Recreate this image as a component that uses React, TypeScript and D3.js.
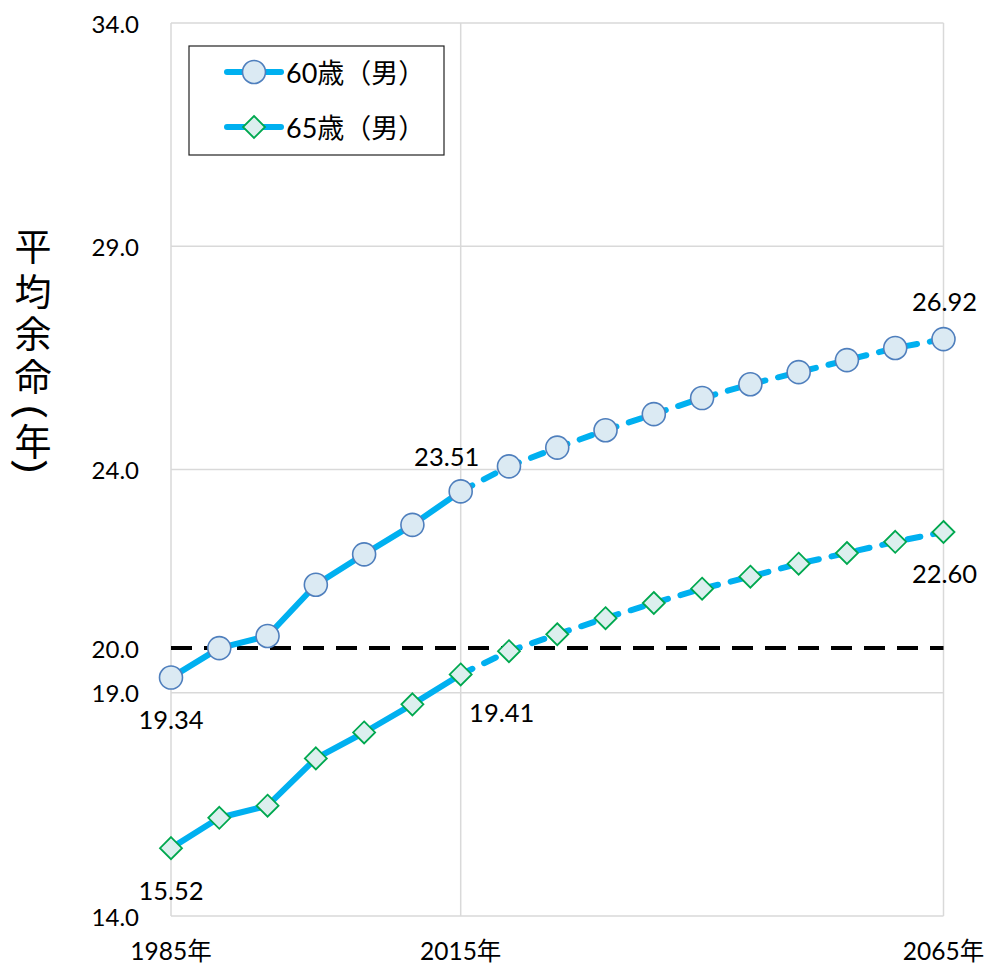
import React from "react";
import * as d3 from "d3";

const years = [1985, 1990, 1995, 2000, 2005, 2010, 2015, 2020, 2025, 2030, 2035, 2040, 2045, 2050, 2055, 2060, 2065];
const male60 = [19.34, 20.0, 20.27, 21.42, 22.1, 22.76, 23.51, 24.07, 24.49, 24.88, 25.24, 25.6, 25.91, 26.18, 26.45, 26.72, 26.92];
const male65 = [15.52, 16.2, 16.47, 17.53, 18.11, 18.74, 19.41, 19.93, 20.31, 20.67, 21.01, 21.33, 21.6, 21.89, 22.13, 22.38, 22.6];
const yTicks = [14, 19, 24, 29, 34];
const xTickYears = [1985, 2015, 2065];
const refValue = 20;
const seriesNames = ["60歳（男）", "65歳（男）"];
const yTitle = ["平", "均", "余", "命", "（", "年", "）"];
const projectionStart = 2015;

const W = 986;
const H = 966;
const FONT = "Lato, 'Noto Sans CJK JP', sans-serif";
const BLUE = "#00b0f0";
const GRID = "#d9d9d9";

export default function App() {
  const x = d3.scaleLinear().domain([1985, 2065]).range([171, 943.5]);
  const y = d3.scaleLinear().domain([14, 34]).range([916, 23]);

  const line = d3
    .line<[number, number]>()
    .x((d) => x(d[0]))
    .y((d) => y(d[1]));

  const splitIdx = years.indexOf(projectionStart);
  const mk = (vals: number[]) => {
    const pts = years.map((yr, i) => [yr, vals[i]] as [number, number]);
    return { solid: pts.slice(0, splitIdx + 1), dashed: pts.slice(splitIdx) };
  };
  const s60 = mk(male60);
  const s65 = mk(male65);

  const circle = (cx: number, cy: number, key: string) => (
    <circle key={key} cx={cx} cy={cy} r={11.5} fill="#dbeaf3" stroke="#4f7fbd" strokeWidth={1.6} />
  );
  const diamond = (cx: number, cy: number, key: string) => {
    const r = 11;
    return (
      <path
        key={key}
        d={`M${cx},${cy - r}L${cx + r},${cy}L${cx},${cy + r}L${cx - r},${cy}Z`}
        fill="#dcefee"
        stroke="#00a84f"
        strokeWidth={1.8}
      />
    );
  };

  const last = years.length - 1;
  const labels: { text: string; x: number; y: number }[] = [
    { text: male60[0].toFixed(2), x: x(years[0]), y: y(male60[0]) + 41 },
    { text: male60[splitIdx].toFixed(2), x: x(years[splitIdx]) - 14, y: y(male60[splitIdx]) - 35 },
    { text: male60[last].toFixed(2), x: x(years[last]) + 1, y: y(male60[last]) - 38 },
    { text: male65[0].toFixed(2), x: x(years[0]), y: y(male65[0]) + 42 },
    { text: male65[splitIdx].toFixed(2), x: x(years[splitIdx]) + 41, y: y(male65[splitIdx]) + 38 },
    { text: male65[last].toFixed(2), x: x(years[last]) + 1, y: y(male65[last]) + 41 },
  ];

  const titleY = [245, 290, 332, 375, 411, 440, 467];

  return (
    <svg width={W} height={H} style={{ position: "absolute", left: 0, top: 0, background: "#fff" }} fontFamily={FONT}>
      <rect width={W} height={H} fill="#fff" />
      {yTicks.map((t) => (
        <line key={"g" + t} x1={x(1985)} x2={x(2065)} y1={y(t)} y2={y(t)} stroke={GRID} strokeWidth={1.5} />
      ))}
      {xTickYears.map((yr) => (
        <line key={"v" + yr} x1={x(yr)} x2={x(yr)} y1={y(34)} y2={y(14)} stroke={GRID} strokeWidth={1.5} />
      ))}
      {yTicks.map((t) => (
        <text key={"yt" + t} x={139} y={y(t)} textAnchor="end" dominantBaseline="central" fontSize={24} fill="#000">
          {t.toFixed(1)}
        </text>
      ))}
      <text x={139} y={y(refValue)} textAnchor="end" dominantBaseline="central" fontSize={24} fill="#000">
        {refValue.toFixed(1)}
      </text>
      {xTickYears.map((yr) => (
        <text key={"xt" + yr} x={x(yr)} y={950} textAnchor="middle" dominantBaseline="central" fontSize={24.5} fill="#000">
          {yr}年
        </text>
      ))}
      {yTitle.map((c, i) => {
        const isParen = c === "（" || c === "）";
        if (isParen) {
          return (
            <text
              key={"yt-" + i}
              x={0}
              y={0}
              transform={`translate(33,${titleY[i]}) rotate(90) scale(1.5,1.05)`}
              textAnchor="middle"
              dominantBaseline="central"
              fontSize={34}
              fontFamily="'Noto Sans CJK JP'"
              fill="#000"
            >
              {c === "（" ? "(" : ")"}
            </text>
          );
        }
        return (
          <text
            key={"yt-" + i}
            x={33}
            y={titleY[i]}
            textAnchor="middle"
            dominantBaseline="central"
            fontSize={37}
            fontFamily="'Noto Sans CJK JP'"
            fill="#000"
          >
            {c}
          </text>
        );
      })}
      <line x1={x(1985)} x2={x(2065)} y1={y(refValue)} y2={y(refValue)} stroke="#000" strokeWidth={4} strokeDasharray="21 12" />
      {[s60, s65].map((s, i) => (
        <g key={"s" + i}>
          <path d={line(s.solid) || ""} fill="none" stroke={BLUE} strokeWidth={6} strokeLinejoin="round" strokeLinecap="round" />
          <path d={line(s.dashed) || ""} fill="none" stroke={BLUE} strokeWidth={6} strokeDasharray="13 13" strokeLinecap="round" />
        </g>
      ))}
      {years.map((yr, i) => circle(x(yr), y(male60[i]), "c" + i))}
      {years.map((yr, i) => diamond(x(yr), y(male65[i]), "d" + i))}
      {labels.map((l, i) => (
        <text key={"l" + i} x={l.x} y={l.y} textAnchor="middle" dominantBaseline="central" fontSize={25.5} fill="#000">
          {l.text}
        </text>
      ))}
      <g>
        <rect x={189} y={46} width={255} height={109} fill="#fff" stroke="#222" strokeWidth={1.2} />
        {[0, 1].map((i) => {
          const ly = i === 0 ? 72 : 127;
          return (
            <g key={"lg" + i}>
              <line x1={227} x2={281} y1={ly} y2={ly} stroke={BLUE} strokeWidth={6} strokeLinecap="round" />
              {i === 0 ? circle(254, ly, "lgc") : diamond(254, ly, "lgd")}
              <text x={286} y={ly} dominantBaseline="central" fontSize={27} fill="#000">
                {seriesNames[i]}
              </text>
            </g>
          );
        })}
      </g>
    </svg>
  );
}
